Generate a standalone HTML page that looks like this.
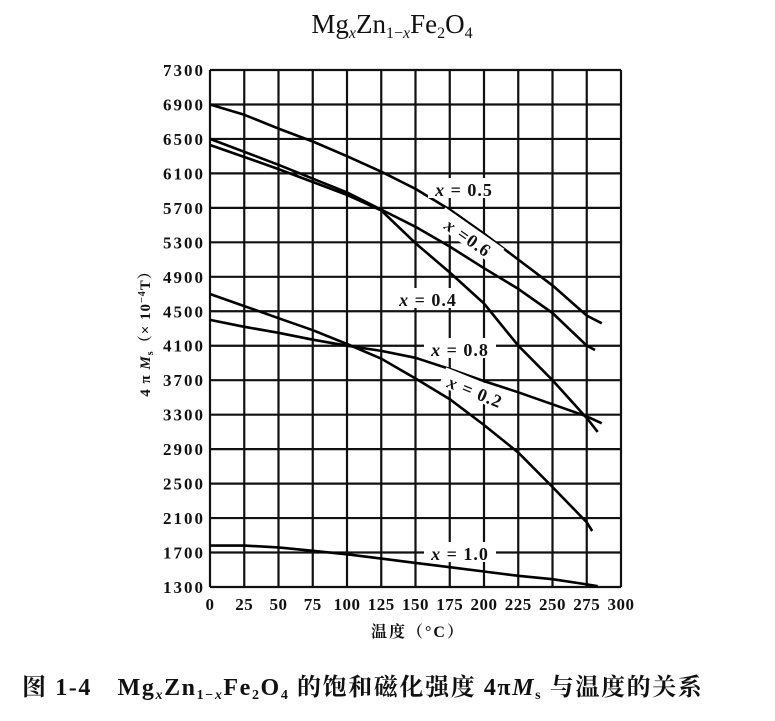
<!DOCTYPE html>
<html><head><meta charset="utf-8"><style>
body{margin:0;background:#fff;width:775px;height:716px;overflow:hidden}
text{font-family:"Liberation Serif","Noto Serif CJK SC",serif;fill:#111}
</style></head><body>
<svg id="chart" width="775" height="716" viewBox="0 0 775 716" xmlns="http://www.w3.org/2000/svg">
<text x="392" y="33" text-anchor="middle" font-size="27">Mg<tspan font-size="16" dy="5" font-style="italic">x</tspan><tspan dy="-5">Zn</tspan><tspan font-size="16" dy="5">1−<tspan font-style="italic">x</tspan></tspan><tspan dy="-5">Fe</tspan><tspan font-size="16" dy="5">2</tspan><tspan dy="-5">O</tspan><tspan font-size="16" dy="5">4</tspan></text>
<g id="grid"></g>
<g id="ticks"></g>
<g id="series"></g>
<g id="labels"></g>
<text transform="translate(150,330) rotate(-90)" text-anchor="middle" font-size="15" font-weight="bold" letter-spacing="1">4 π <tspan font-style="italic">M</tspan><tspan font-size="10" dy="3">s</tspan><tspan dy="-3">（× 10</tspan><tspan font-size="10" dy="-5">−4</tspan><tspan dy="5">T）</tspan></text>
<text x="418" y="637" text-anchor="middle" font-size="16" font-weight="bold" letter-spacing="2">温度（°C）</text>
<text x="22" y="695" font-size="24" font-weight="bold" letter-spacing="1.6">图 1-4　Mg<tspan font-size="14" dy="4" font-style="italic">x</tspan><tspan dy="-4">Zn</tspan><tspan font-size="14" dy="4">1−<tspan font-style="italic">x</tspan></tspan><tspan dy="-4">Fe</tspan><tspan font-size="14" dy="4">2</tspan><tspan dy="-4">O</tspan><tspan font-size="14" dy="4">4</tspan><tspan dy="-4"> 的饱和磁化强度 4π</tspan><tspan font-style="italic">M</tspan><tspan font-size="14" dy="4">s</tspan><tspan dy="-4"> 与温度的关系</tspan></text>
</svg>
<script>
const xTicks=[0,25,50,75,100,125,150,175,200,225,250,275,300];
const yTicks=[1300,1700,2100,2500,2900,3300,3700,4100,4500,4900,5300,5700,6100,6500,6900,7300];
const temps05=[0,25,50,75,100,125,150,175,200,225,250,275,286];
const vals05=[6900,6780,6620,6470,6300,6120,5920,5680,5400,5100,4800,4450,4360];
const temps06=[0,50,100,125,150,175,200,225,250,275,281];
const vals06=[6500,6200,5880,5680,5480,5250,5000,4760,4480,4100,4050];
const temps04=[0,25,50,75,100,125,150,175,200,225,250,275,283];
const vals04=[6430,6290,6150,6000,5850,5670,5290,4950,4590,4100,3700,3260,3100];
const temps08=[0,25,50,75,100,125,150,175,200,225,250,275,286];
const vals08=[4400,4320,4250,4170,4100,4040,3960,3830,3690,3560,3420,3280,3200];
const temps02=[0,25,50,75,100,125,150,175,200,225,250,275,279];
const vals02=[4700,4560,4420,4280,4120,3950,3720,3480,3180,2860,2460,2050,1950];
const temps10=[0,25,50,75,100,125,150,175,200,225,250,275,283];
const vals10=[1780,1780,1760,1720,1680,1630,1580,1530,1480,1430,1390,1330,1310];
const seriesNames=["x-0.5","x-0.6","x-0.4","x-0.8","x-0.2","x-1.0"];
const X0=210,X1=621,Y0=587,Y1=70;
const sx=t=>X0+(t-0)/(300-0)*(X1-X0);
const sy=v=>Y0-(v-1300)/(7300-1300)*(Y0-Y1);
const NS="http://www.w3.org/2000/svg";
function mk(tag,attrs,parent){const e=document.createElementNS(NS,tag);for(const k in attrs)e.setAttribute(k,attrs[k]);parent.appendChild(e);return e;}
const grid=document.getElementById('grid'),ticks=document.getElementById('ticks');
xTicks.forEach(t=>{const l=mk('line',{x1:sx(t),x2:sx(t),y1:Y1,y2:Y0,stroke:'#111','stroke-width':2.2},grid);


const tx=mk('text',{x:sx(t),y:Y0+23,'text-anchor':'middle','font-size':17,'font-weight':'bold','letter-spacing':0.5},ticks);tx.textContent=t;

});
yTicks.forEach(v=>{const l=mk('line',{x1:X0,x2:X1,y1:sy(v),y2:sy(v),stroke:'#111','stroke-width':2.2},grid);


const tx=mk('text',{x:X0-5,y:sy(v)+6,'text-anchor':'end','font-size':17,'font-weight':'bold','letter-spacing':2},ticks);tx.textContent=v;

});
const ser=document.getElementById('series');
[[temps05,vals05],[temps06,vals06],[temps04,vals04],[temps08,vals08],[temps02,vals02],[temps10,vals10]].forEach((s,i)=>{
const d=s[0].map((t,j)=>(j?'L':'M')+sx(t).toFixed(1)+','+sy(s[1][j]).toFixed(1)).join(' ');
const p=mk('path',{d:d,fill:'none',stroke:'#000','stroke-width':2.6,'stroke-linejoin':'round'},ser);

});
const labs=document.getElementById('labels');
const labelDefs=[["x = 0.5",464,190,0],["x =0.6",468,238,35],["x = 0.4",428,300,0],["x = 0.8",460,350,0],["x = 0.2",475,392,22],["x = 1.0",460,554,0]];
labelDefs.forEach((L,i)=>{const g=mk('g',{transform:`translate(${L[1]},${L[2]}) rotate(${L[3]})`},labs);
mk('rect',{x:-36,y:-12,width:72,height:20,fill:'#fff'},g);
const t=mk('text',{x:0,y:6,'text-anchor':'middle','font-size':18,'font-weight':'bold','letter-spacing':1},g);
t.innerHTML='<tspan font-style="italic">x</tspan>'+L[0].slice(1);

});
</script>
</body></html>
